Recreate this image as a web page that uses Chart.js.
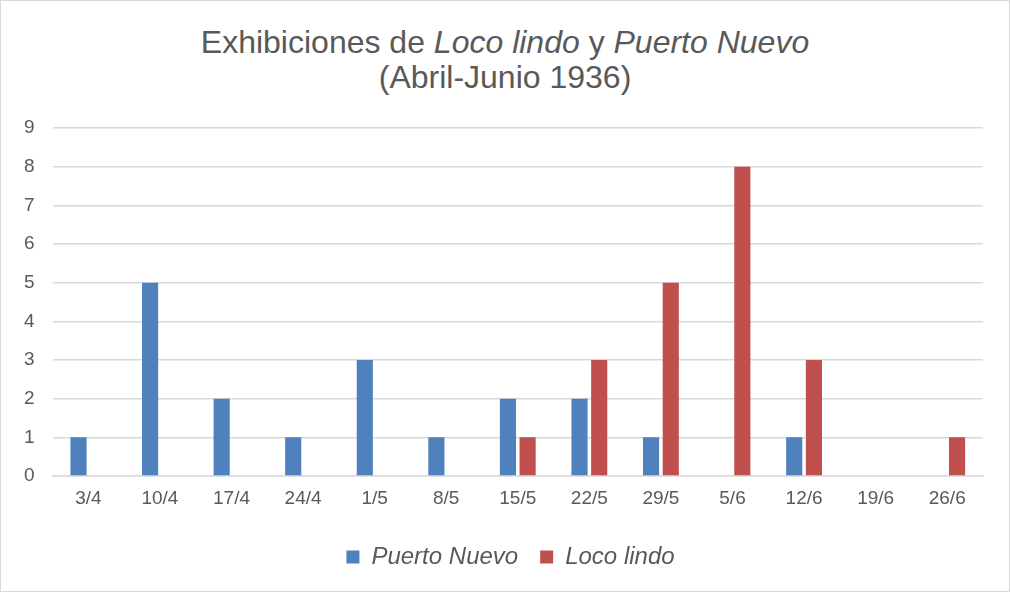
<!DOCTYPE html>
<html lang="es">
<head>
  <meta charset="UTF-8">
  <title>Exhibiciones de Loco lindo y Puerto Nuevo</title>
  <script src="https://cdn.jsdelivr.net/npm/chart.js"></script>
  <style>
    html, body { margin: 0; padding: 0; background: #fff; }
    #wrap {
      position: relative; width: 1010px; height: 592px;
      box-sizing: border-box; border: 1px solid #d9d9d9; background: #fff;
    }
    #title {
      position: absolute; left: 0; right: 0; top: 24px;
      text-align: center; color: #595959;
      font-family: "Liberation Sans", Arial, sans-serif; font-size: 32px; line-height: 35px;
    }
    canvas { position: absolute; left: 0; top: 0; }
  </style>
</head>
<body>
  <div id="wrap">
    <div id="title">Exhibiciones de <i>Loco lindo</i> y <i>Puerto Nuevo</i><br>(Abril-Junio 1936)</div>
    <canvas id="chart" width="1008" height="590"></canvas>
  </div>

  <script>
    const weeks = ['3/4', '10/4', '17/4', '24/4', '1/5', '8/5', '15/5', '22/5', '29/5', '5/6', '12/6', '19/6', '26/6'];
    const puertoNuevo = [1, 5, 2, 1, 3, 1, 2, 2, 1, 0, 1, 0, 0];
    const locoLindo = [0, 0, 0, 0, 0, 0, 1, 3, 5, 8, 3, 0, 1];

    const grey = '#595959';
    const font = 'Liberation Sans, Arial, sans-serif';

    // legend sits a little right of centre in the original
    const legendShift = {
      id: 'legendShift',
      afterLayout(chart) {
        chart.legend.left += 16;
        chart.legend.right += 16;
      }
    };

    new Chart(document.getElementById('chart').getContext('2d'), {
      type: 'bar',
      data: {
        labels: weeks,
        datasets: [
          { label: 'Puerto Nuevo', data: puertoNuevo, backgroundColor: '#4f81bd' },
          { label: 'Loco lindo', data: locoLindo, backgroundColor: '#c0504d' }
        ]
      },
      options: {
        responsive: false,
        animation: false,
        categoryPercentage: 0.55,
        barPercentage: 0.82,
        layout: { padding: { top: 127, left: 5, right: 26, bottom: 12 } },
        plugins: {
          legend: {
            position: 'bottom',
            // empty title only used as a spacer above the legend items
            title: { display: true, text: '', font: { size: 1 }, padding: { top: 9, bottom: 0 } },
            labels: {
              color: grey, boxWidth: 13, boxHeight: 13, padding: 22,
              font: { family: font, size: 24, style: 'italic' }
            }
          },
          tooltip: { enabled: false }
        },
        scales: {
          x: {
            grid: { display: false },
            border: { color: '#d9d9d9', width: 1.5 },
            ticks: { color: grey, padding: 3, font: { family: font, size: 19 } }
          },
          y: {
            min: 0, max: 9,
            grid: { color: '#d9d9d9', lineWidth: 1.5, drawTicks: false },
            border: { display: false },
            ticks: { stepSize: 1, color: grey, padding: 18, font: { family: font, size: 19 } }
          }
        }
      },
      plugins: [legendShift]
    });
  </script>
</body>
</html>
